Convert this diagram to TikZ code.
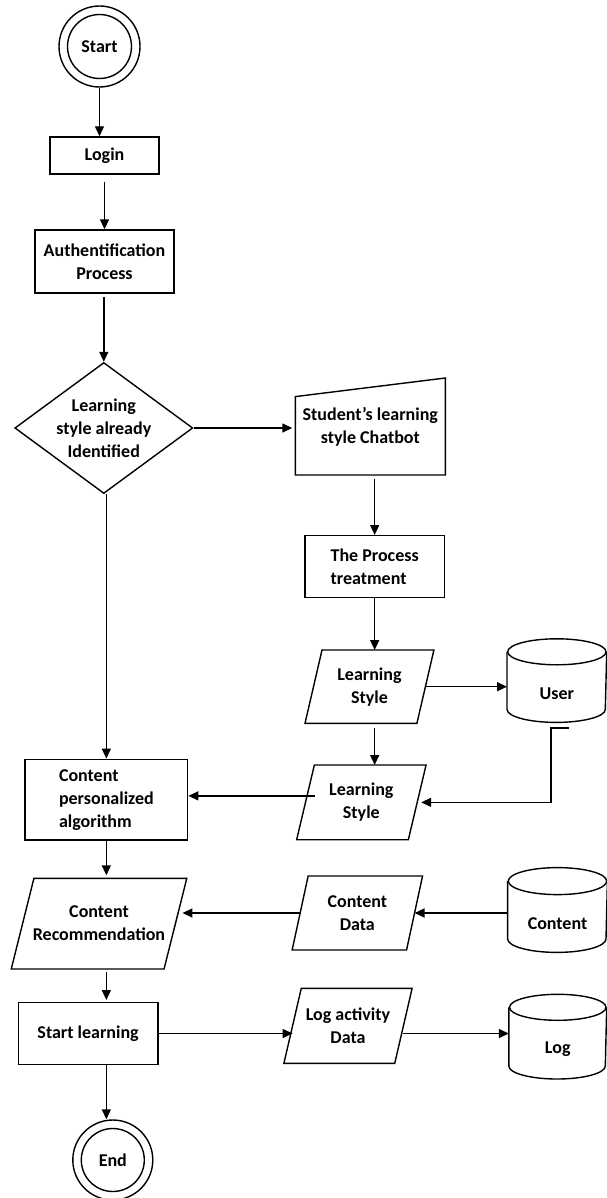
\documentclass[tikz,border=0pt]{standalone}
\usepackage{fontspec}
\setmainfont{Carlito}
\usetikzlibrary{arrows.meta,shapes.geometric,calc}
\newcommand\parabox[2]{\draw ($(#1.north west)+(#2/2,0)$) -- ($(#1.north east)+(#2/2,0)$) -- ($(#1.south east)-(#2/2,0)$) -- ($(#1.south west)-(#2/2,0)$) -- cycle;}
\newcommand\cylbox[3]{%
  \draw ($(#1.north)+(0,-#3)$) ellipse [x radius=#2, y radius=#3];
  \draw ($(#1.north west)+(0,-#3)$) -- ($(#1.south west)+(0,-#3)$) arc[start angle=180, end angle=0, x radius=#2, y radius=#3] -- ($(#1.north east)+(0,-#3)$);}
\begin{document}
\begin{tikzpicture}[x=1pt,y=-1pt, line width=1.4pt,
  every node/.style={font=\bfseries\fontsize{18}{23}\selectfont, inner sep=0pt, align=center},
  box/.style={draw, rectangle},
  frame/.style={rectangle},
  endpt/.style={draw, circle, minimum size=81pt},
  arr/.style={-{Triangle[length=10pt,width=9pt]}}]
\useasboundingbox (0,0) rectangle (607,1198);
% terminals
\node[endpt] (start) at (99.5,46.5) {Start};
\draw (start.center) circle[radius=32pt];
\node[endpt, minimum size=80pt] (fin) at (112.8,1160) {End};
\draw (fin.center) circle[radius=31.5pt];
% process boxes
\node[box, minimum width=109pt, minimum height=37pt] (login) at (104.5,155.5) {Login};
\node[box, minimum width=139pt, minimum height=63pt] (auth) at (104.5,261.5) {Authentification\\Process};
\node[draw, diamond, aspect=1.36, minimum width=178pt, minimum height=131pt] (dia) at (103.8,428) {Learning\\style already\\Identified};
\node[box, align=left, minimum width=139.3pt, minimum height=62pt] (proc) at (374.65,566.7) {The Process\\treatment};
\node[box, align=left, minimum width=162.7pt, minimum height=80.7pt] (cpa) at (106.35,799.65) {Content\\personalized\\algorithm};
\node[box, minimum width=139.8pt, minimum height=61.6pt] (sl) at (88.1,1033.5) {Start learning};
% chatbot (manual input)
\node[frame, minimum width=148.7pt, minimum height=95.6pt] (cb) at (370.35,426.5) {Student’s learning\\style Chatbot};
\draw (cb.south west) -- ($(cb.north west)+(0,18.6)$) -- (cb.north east) -- (cb.south east) -- cycle;
% data (parallelograms)
\node[frame, minimum width=110.5pt, minimum height=72pt] (ls1) at (369.45,686.7) {Learning\\Style};
\parabox{ls1}{17}
\node[frame, minimum width=110.3pt, minimum height=73.3pt] (ls2) at (361.35,802.35) {Learning\\Style};
\parabox{ls2}{17.7}
\node[frame, minimum width=151.45pt, minimum height=89.3pt] (cr) at (99,923.65) {Content\\Recommendation};
\parabox{cr}{22.7}
\node[frame, minimum width=113pt, minimum height=72.6pt] (cd) at (357.35,913) {Content\\Data};
\parabox{cd}{16}
\node[frame, minimum width=109.45pt, minimum height=73.7pt] (la) at (348,1025.85) {Log activity\\Data};
\parabox{la}{17.4}
% databases (cylinders)
\node[frame, minimum width=98.3pt, minimum height=56.2pt] (user) at (556.85,693.6) {User};
\cylbox{user}{49.15}{13}
\node[frame, minimum width=98.4pt, minimum height=56.4pt] (content) at (557.5,923.5) {Content};
\cylbox{content}{49.2}{13.5}
\node[frame, minimum width=96.5pt, minimum height=57.3pt] (log) at (557.75,1049.65) {Log};
\cylbox{log}{48.25}{13}
% connectors
\draw[arr] (start.south) -- (start.south |- login.north);
\draw[arr, shorten <=7pt] (login.south) -- (login.south |- auth.north);
\draw[arr, shorten <=3pt] (dia.north |- auth.south) -- (dia.north);
\draw[arr, shorten >=3pt] (dia.east) -- (dia.east -| cb.west);
\draw[arr, shorten <=4pt] (proc.north |- cb.south) -- (proc.north);
\draw[arr] (proc.south) -- (proc.south |- ls1.north);
\draw[arr] (ls1.east) -- (ls1.east -| user.west);
\draw[arr, shorten <=5pt] (proc.south |- ls1.south) -- (proc.south |- ls2.north);
\coordinate (ua) at ($(user.south)+(12,5.5)$);
\draw[arr, shorten >=4pt] (ua) -- ++(-18,0) |- (ls2.east);
\coordinate (lb) at ($(ls2.west)+(9,-6.5)$);
\draw[arr] (lb) -- (lb -| cpa.east);
\draw[arr] (cpa.north |- dia.south) -- (cpa.north);
\draw[arr, shorten >=3pt] (cpa.south) -- (cpa.south |- cr.north);
\draw[arr] (content.west |- cd.east) -- (cd.east);
\draw[arr, shorten >=7pt] (cd.west) -- (cd.west -| cr.east);
\draw[arr, shorten <=3pt, shorten >=2pt] (cpa.south |- cr.south) -- (cpa.south |- sl.north);
\draw[arr] (sl.east) -- (sl.east -| la.west);
\draw[arr] (la.east |- sl.east) -- (log.west |- sl.east);
\draw[arr] (cpa.south |- sl.south) -- (cpa.south |- fin.north);
\end{tikzpicture}
\end{document}
